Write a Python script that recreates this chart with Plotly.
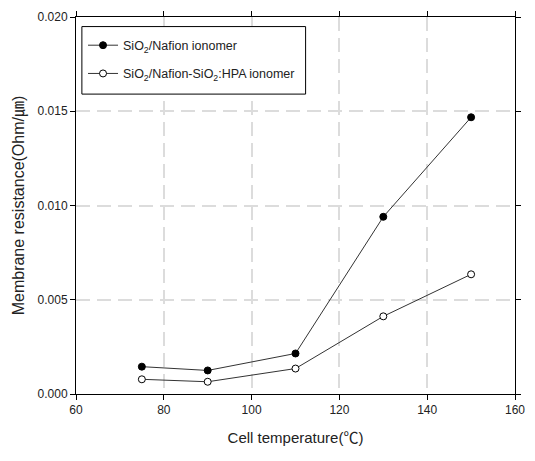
import plotly.graph_objects as go

temps = [75, 90, 110, 130, 150]
sio2_nafion = [0.00145, 0.00125, 0.00215, 0.00940, 0.01468]
sio2_nafion_hpa = [0.00078, 0.00065, 0.00135, 0.00412, 0.00635]
names = ["SiO<sub>2</sub>/Nafion ionomer", "SiO<sub>2</sub>/Nafion-SiO<sub>2</sub>:HPA ionomer"]
x_ticks = [60, 80, 100, 120, 140, 160]
y_ticks = [0.000, 0.005, 0.010, 0.015, 0.020]

FONT = "Liberation Sans, Arial, Noto Sans CJK KR, sans-serif"

fig = go.Figure()
fig.add_trace(go.Scatter(
    x=temps, y=sio2_nafion, name=names[0], mode="lines+markers", legendgroup="a",
    line=dict(color="#333333", width=1),
    marker=dict(symbol="circle", size=7, color="black", line=dict(color="black", width=1)),
))
fig.add_trace(go.Scatter(
    x=temps, y=sio2_nafion_hpa, name=names[1], mode="lines+markers", legendgroup="b",
    line=dict(color="#333333", width=1),
    marker=dict(symbol="circle", size=7, color="white", line=dict(color="black", width=1)),
))

axis_common = dict(
    showline=True, linecolor="black", linewidth=1, mirror="ticks",
    ticks="outside", ticklen=5, tickcolor="black",
    showgrid=True, gridcolor="#dcdcdc", gridwidth=1.5, griddash="14px,7px",
    zeroline=False, tickfont=dict(family=FONT, size=12, color="#222222"),
)

fig.update_layout(
    width=535, height=461,
    margin=dict(l=76, r=10, t=13, b=67),
    paper_bgcolor="white", plot_bgcolor="white",
    font=dict(family=FONT, size=12, color="#222222"),
    xaxis=dict(range=[60, 160], tickvals=x_ticks,
               title=dict(text="Cell temperature(℃)", font=dict(size=15), standoff=16),
               **axis_common),
    yaxis=dict(range=[0, 0.02], tickvals=y_ticks, tickformat=".3f",
               title=dict(text="Membrane resistance(Ohm/㎛)", font=dict(size=16), standoff=8),
               **axis_common),
    legend=dict(x=0.016, y=0.964, xanchor="left", yanchor="top",
                bgcolor="rgba(0,0,0,0)", borderwidth=0,
                font=dict(family=FONT, size=12.5, color="#222222"),
                itemwidth=30, tracegroupgap=9),
    shapes=[dict(type="rect", xref="paper", yref="paper",
                 x0=0.0134, x1=0.523, y0=0.7955, y1=0.9746,
                 line=dict(color="black", width=1), fillcolor="white", layer="above")],
    showlegend=True,
)

fig.write_html("out.html")
